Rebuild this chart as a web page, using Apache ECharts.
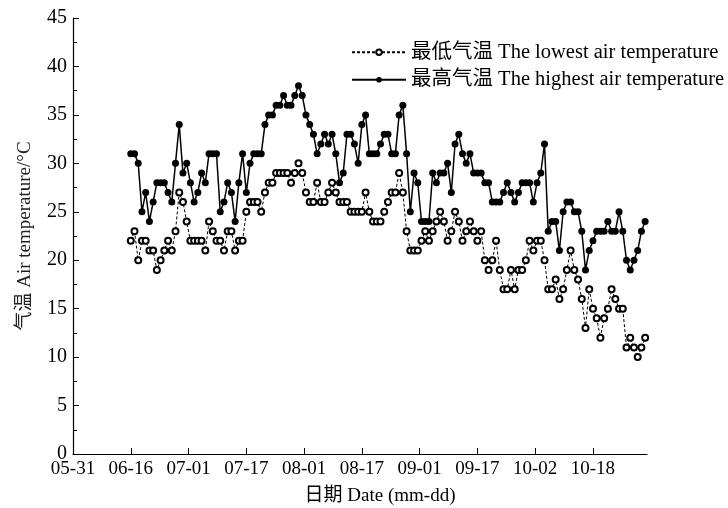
<!DOCTYPE html>
<html>
<head>
<meta charset="utf-8">
<script src="https://cdn.jsdelivr.net/npm/echarts@6/dist/echarts.min.js"></script>
<style>
	html, body { margin: 0; padding: 0; background: #fff; }
	#main { width: 728px; height: 508px; }
</style>
</head>
<body>
<div id="main"></div>
<script>
// x 坐标: 从 05-31 12:00 起算的天数, 刻度每 15.5 天
var tickLabels = ['05-31', '06-16', '07-01', '07-17', '08-01', '08-17', '09-01', '09-17', '10-02', '10-18'];
var firstDay = 15.5; // 06-16

// 最低气温
var lowTemp = [
	22, 23, 20, 22, 22, 21, 21, 19, 20, 21,
	22, 21, 23, 27, 26, 24, 22, 22, 22, 22,
	21, 24, 23, 22, 22, 21, 23, 23, 21, 22,
	22, 25, 26, 26, 26, 25, 27, 28, 28, 29,
	29, 29, 29, 28, 29, 30, 29, 27, 26, 26,
	28, 26, 26, 27, 28, 27, 26, 26, 26, 25,
	25, 25, 25, 27, 25, 24, 24, 24, 25, 26,
	27, 27, 29, 27, 23, 21, 21, 21, 22, 23,
	22, 23, 24, 25, 24, 22, 23, 25, 24, 22,
	23, 24, 23, 22, 23, 20, 19, 20, 22, 19,
	17, 17, 19, 17, 19, 19, 20, 22, 21, 22,
	22, 20, 17, 17, 18, 16, 17, 19, 21, 19,
	18, 16, 13, 17, 15, 14, 12, 14, 15, 17,
	16, 15, 15, 11, 12, 11, 10, 11, 12
];

// 最高气温
var highTemp = [
	31, 31, 30, 25, 27, 24, 26, 28, 28, 28,
	27, 26, 30, 34, 29, 30, 28, 26, 27, 29,
	28, 31, 31, 31, 25, 26, 28, 27, 24, 28,
	31, 27, 30, 31, 31, 31, 34, 35, 35, 36,
	36, 37, 36, 36, 37, 38, 37, 35, 34, 33,
	31, 32, 33, 32, 33, 31, 28, 29, 33, 33,
	32, 30, 34, 35, 31, 31, 31, 32, 33, 33,
	31, 31, 35, 36, 31, 25, 29, 28, 24, 24,
	24, 29, 28, 29, 29, 30, 27, 32, 33, 31,
	30, 31, 29, 29, 29, 28, 28, 26, 26, 26,
	27, 28, 27, 26, 27, 28, 28, 28, 26, 28,
	29, 32, 23, 24, 24, 21, 25, 26, 26, 25,
	25, 23, 19, 21, 22, 23, 23, 23, 24, 23,
	23, 25, 23, 20, 19, 20, 21, 23, 24
];

function toPoints(arr) {
	return arr.map(function(v, i) {
		return [firstDay + i, v];
	});
}

var font = 'Liberation Serif, "Noto Sans CJK SC", serif';

var myChart = echarts.init(document.getElementById('main'), null, { renderer: 'canvas' });

var option = {
	animation: false,
	backgroundColor: '#fff',
	textStyle: { fontFamily: font, color: '#000' },
	grid: {
		left: 73,
		top: 18,
		width: 574,
		height: 436,
		outerBoundsMode: 'none'
	},
	legend: {
		orient: 'vertical',
		left: 346,
		top: 37,
		itemWidth: 54,
		itemHeight: 7,
		itemGap: 7,
		textStyle: { fontFamily: font, fontSize: 20.5, color: '#000' },
		data: ['最低气温 The lowest air temperature', '最高气温 The highest air temperature']
	},
	xAxis: {
		type: 'value',
		min: 0,
		max: 154,
		interval: 15.5,
		name: '日期 Date (mm-dd)',
		nameLocation: 'middle',
		nameGap: 33,
		nameTextStyle: { fontFamily: font, fontSize: 19, color: '#000', padding: [0, 0, 0, 40] },
		splitLine: { show: false },
		axisLine: { lineStyle: { color: '#000', width: 1.2 } },
		axisTick: { inside: true, length: 6, lineStyle: { color: '#000' } },
		axisLabel: {
			fontFamily: font,
			fontSize: 19,
			color: '#000',
			margin: 6,
			showMaxLabel: false,
			formatter: function(v) {
				return tickLabels[Math.round(v / 15.5)] || '';
			}
		}
	},
	yAxis: {
		type: 'value',
		min: 0,
		max: 45,
		interval: 5,
		name: '气温 Air temperature/°C',
		nameLocation: 'middle',
		nameGap: 38,
		nameTextStyle: { fontFamily: font, fontSize: 19, color: '#222' },
		splitLine: { show: false },
		axisLine: { show: true, lineStyle: { color: '#000', width: 1.2 } },
		axisTick: { inside: true, length: 6, lineStyle: { color: '#000' } },
		minorTick: { show: true, splitNumber: 2, length: 4, lineStyle: { color: '#000' } },
		axisLabel: { fontFamily: font, fontSize: 20, color: '#000', margin: 6 }
	},
	series: [{
		name: '最低气温 The lowest air temperature',
		type: 'line',
		data: toPoints(lowTemp),
		symbol: 'emptyCircle',
		symbolSize: 6,
		showAllSymbol: true,
		lineStyle: { color: '#000', width: 1, type: [3, 2] },
		itemStyle: { color: '#000', borderColor: '#000', borderWidth: 1 }
	}, {
		name: '最高气温 The highest air temperature',
		type: 'line',
		data: toPoints(highTemp),
		symbol: 'circle',
		symbolSize: 7,
		showAllSymbol: true,
		lineStyle: { color: '#000', width: 1.5 },
		itemStyle: { color: '#000' }
	}]
};

myChart.setOption(option);
</script>
</body>
</html>
